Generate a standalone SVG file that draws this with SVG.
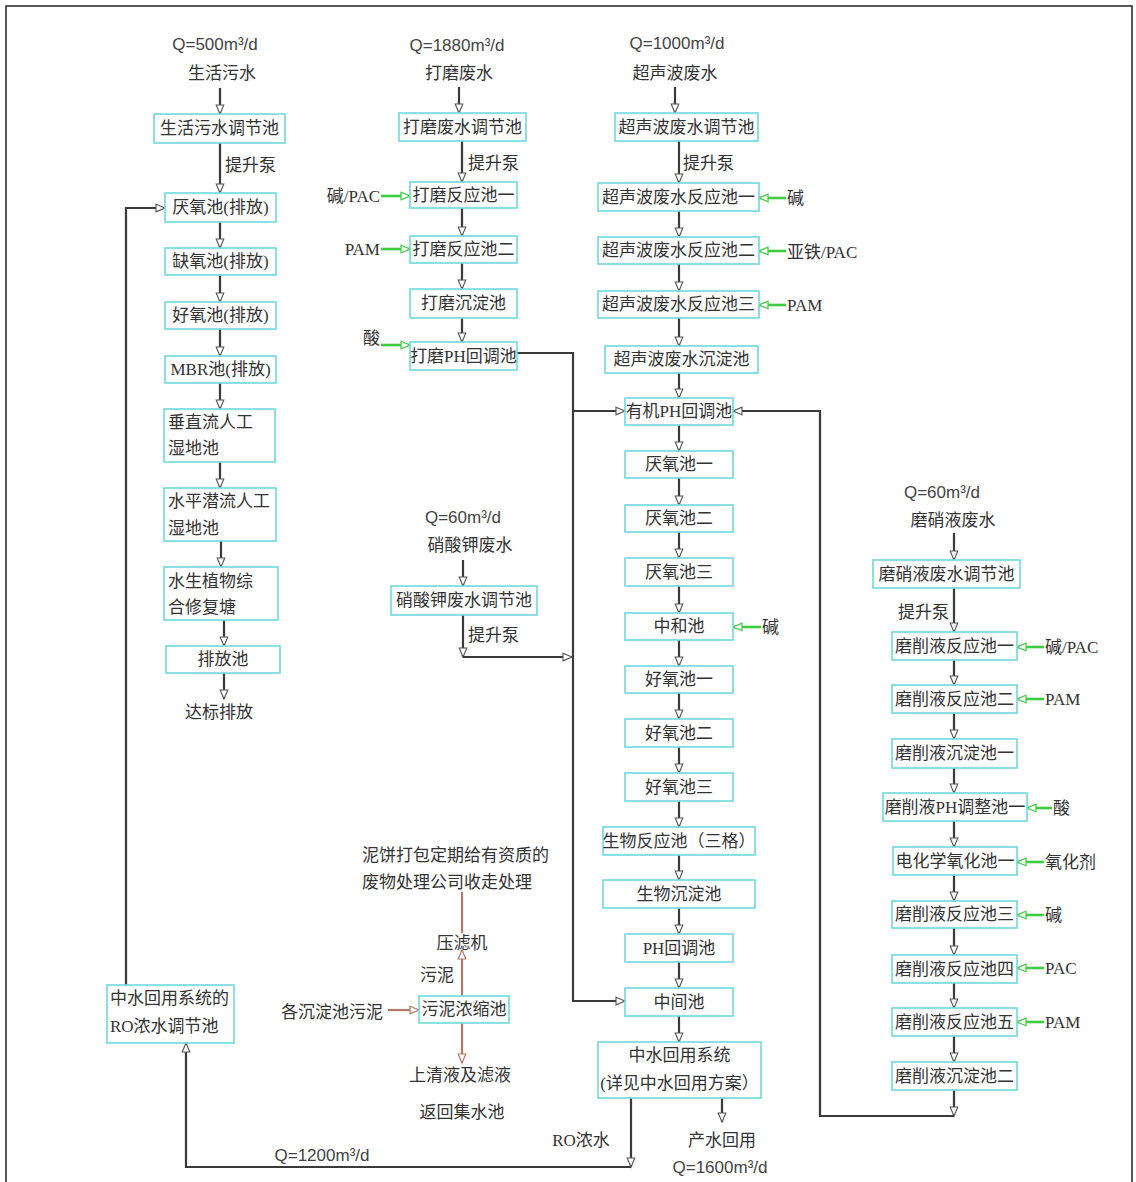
<svg xmlns="http://www.w3.org/2000/svg" width="1136" height="1182" viewBox="0 0 1136 1182">
<style>
.box{fill:#fff;stroke:#6fd9dc;stroke-width:1.6}
text{font-family:"Liberation Serif","Noto Sans CJK SC",serif;font-size:17px;fill:#333;dominant-baseline:central}
.m{text-anchor:middle}
.q{font-family:"Liberation Sans","Noto Sans CJK SC",sans-serif;font-size:17px;fill:#444;text-anchor:middle}
.e{text-anchor:end}
.c{fill:none;stroke:#3a3a3a;stroke-width:2.2}
.g{fill:none;stroke:#3fcc3f;stroke-width:2.6}
.b{fill:none;stroke:#b07a6a;stroke-width:2.2}
</style>
<defs>
<marker id="ak" markerUnits="userSpaceOnUse" markerWidth="12" markerHeight="10" refX="10" refY="5" orient="auto"><path d="M1,1.2 L10,5 L1,8.8 Z" fill="#fff" stroke="#555" stroke-width="1.1"/></marker>
<marker id="ag" markerUnits="userSpaceOnUse" markerWidth="12" markerHeight="10" refX="10" refY="5" orient="auto"><path d="M1,1.2 L10,5 L1,8.8 Z" fill="#fff" stroke="#3fcc3f" stroke-width="1.2"/></marker>
<marker id="ab" markerUnits="userSpaceOnUse" markerWidth="12" markerHeight="10" refX="10" refY="5" orient="auto"><path d="M1,1.2 L10,5 L1,8.8 Z" fill="#fff" stroke="#b07a6a" stroke-width="1.2"/></marker>
</defs>
<rect width="1136" height="1182" fill="#fff"/>
<path d="M6,1182 V6 H1132 V1182" fill="none" stroke="#222" stroke-width="1.5"/>

<g id="labels">
<text class="q" x="215" y="44">Q=500m³/d</text>
<text class="m" x="222" y="73">生活污水</text>
<text x="225" y="165">提升泵</text>
<text class="m" x="219" y="712">达标排放</text>
<text class="q" x="457" y="45">Q=1880m³/d</text>
<text class="m" x="459" y="73">打磨废水</text>
<text x="468" y="163">提升泵</text>
<text class="e" x="380" y="196">碱/PAC</text>
<text class="e" x="380" y="249">PAM</text>
<text class="e" x="380" y="338">酸</text>
<text class="q" x="677" y="43">Q=1000m³/d</text>
<text class="m" x="675" y="73">超声波废水</text>
<text x="683" y="163">提升泵</text>
<text x="787" y="198">碱</text>
<text x="787" y="252">亚铁/PAC</text>
<text x="787" y="305">PAM</text>
<text x="762" y="627">碱</text>
<text class="q" x="463" y="517">Q=60m³/d</text>
<text class="m" x="470" y="545">硝酸钾废水</text>
<text x="468" y="635">提升泵</text>
<text class="q" x="942" y="492">Q=60m³/d</text>
<text class="m" x="953" y="520">磨硝液废水</text>
<text class="e" x="949" y="612">提升泵</text>
<text x="1045" y="647">碱/PAC</text>
<text x="1045" y="699">PAM</text>
<text x="1053" y="808">酸</text>
<text x="1045" y="862">氧化剂</text>
<text x="1045" y="915">碱</text>
<text x="1045" y="968">PAC</text>
<text x="1045" y="1022">PAM</text>
<text x="362" y="855">泥饼打包定期给有资质的</text>
<text x="362" y="882">废物处理公司收走处理</text>
<text class="m" x="462" y="943">压滤机</text>
<text class="m" x="437" y="975">污泥</text>
<text class="m" x="332" y="1012">各沉淀池污泥</text>
<text class="m" x="460" y="1075">上清液及滤液</text>
<text class="m" x="462" y="1112">返回集水池</text>
<text class="m" x="581" y="1140">RO浓水</text>
<text class="q" x="322" y="1155">Q=1200m³/d</text>
<text class="m" x="722" y="1140">产水回用</text>
<text class="q" x="720" y="1167">Q=1600m³/d</text>
</g>

<g id="connectors">
<path class="c" marker-end="url(#ak)" d="M220,88 V114"/>
<path class="c" marker-end="url(#ak)" d="M220,143 V193"/>
<path class="c" marker-end="url(#ak)" d="M220,222 V248"/>
<path class="c" marker-end="url(#ak)" d="M220,275 V302"/>
<path class="c" marker-end="url(#ak)" d="M220,329 V356"/>
<path class="c" marker-end="url(#ak)" d="M220,383 V409"/>
<path class="c" marker-end="url(#ak)" d="M220,462 V488"/>
<path class="c" marker-end="url(#ak)" d="M221,541 V567"/>
<path class="c" marker-end="url(#ak)" d="M224,620 V646"/>
<path class="c" marker-end="url(#ak)" d="M224,673 V699"/>
<path class="c" marker-end="url(#ak)" d="M126,985 V208 H165"/>

<path class="c" marker-end="url(#ak)" d="M459,87 V113"/>
<path class="c" marker-end="url(#ak)" d="M462,141 V182"/>
<path class="c" marker-end="url(#ak)" d="M462,208 V236"/>
<path class="c" marker-end="url(#ak)" d="M462,263 V289"/>
<path class="c" marker-end="url(#ak)" d="M462,318 V342"/>
<path class="g" marker-end="url(#ag)" d="M381,196 H410"/>
<path class="g" marker-end="url(#ag)" d="M381,249 H410"/>
<path class="g" marker-end="url(#ag)" d="M381,345 H410"/>
<path class="c" marker-end="url(#ak)" d="M517,353 H573 V1001 H625"/>
<path class="c" marker-end="url(#ak)" d="M573,411 H625"/>
<path class="c" marker-end="url(#ak)" d="M463,560 V586"/>
<path class="c" marker-end="url(#ak)" d="M463,615 V657"/>
<path class="c" marker-end="url(#ak)" d="M463,657 H572"/>

<path class="c" marker-end="url(#ak)" d="M675,87 V113"/>
<path class="c" marker-end="url(#ak)" d="M679,141 V183"/>
<path class="c" marker-end="url(#ak)" d="M679,211 V237"/>
<path class="c" marker-end="url(#ak)" d="M679,264 V291"/>
<path class="c" marker-end="url(#ak)" d="M679,318 V346"/>
<path class="c" marker-end="url(#ak)" d="M679,373 V398"/>
<path class="c" marker-end="url(#ak)" d="M679,425 V451"/>
<path class="c" marker-end="url(#ak)" d="M679,478 V505"/>
<path class="c" marker-end="url(#ak)" d="M679,532 V558"/>
<path class="c" marker-end="url(#ak)" d="M679,586 V613"/>
<path class="c" marker-end="url(#ak)" d="M679,640 V666"/>
<path class="c" marker-end="url(#ak)" d="M679,693 V719"/>
<path class="c" marker-end="url(#ak)" d="M679,747 V773"/>
<path class="c" marker-end="url(#ak)" d="M679,801 V827"/>
<path class="c" marker-end="url(#ak)" d="M679,855 V880"/>
<path class="c" marker-end="url(#ak)" d="M679,908 V934"/>
<path class="c" marker-end="url(#ak)" d="M679,962 V988"/>
<path class="c" marker-end="url(#ak)" d="M679,1016 V1042"/>
<path class="g" marker-end="url(#ag)" d="M786,198 H759"/>
<path class="g" marker-end="url(#ag)" d="M786,251 H759"/>
<path class="g" marker-end="url(#ag)" d="M786,305 H759"/>
<path class="g" marker-end="url(#ag)" d="M761,627 H733"/>
<path class="c" marker-end="url(#ak)" d="M631,1098 V1167"/>
<path class="c" marker-end="url(#ak)" d="M631,1167 H186 V1043"/>
<path class="c" marker-end="url(#ak)" d="M722,1098 V1122"/>

<path class="c" marker-end="url(#ak)" d="M954,533 V560"/>
<path class="c" marker-end="url(#ak)" d="M954,588 V632"/>
<path class="c" marker-end="url(#ak)" d="M954,660 V685"/>
<path class="c" marker-end="url(#ak)" d="M954,713 V739"/>
<path class="c" marker-end="url(#ak)" d="M954,768 V793"/>
<path class="c" marker-end="url(#ak)" d="M954,821 V847"/>
<path class="c" marker-end="url(#ak)" d="M954,875 V901"/>
<path class="c" marker-end="url(#ak)" d="M954,928 V955"/>
<path class="c" marker-end="url(#ak)" d="M954,983 V1008"/>
<path class="c" marker-end="url(#ak)" d="M954,1036 V1062"/>
<path class="c" marker-end="url(#ak)" d="M954,1090 V1116"/>
<path class="c" marker-end="url(#ak)" d="M954,1116 H820 V411 H733"/>
<path class="g" marker-end="url(#ag)" d="M1044,647 H1017"/>
<path class="g" marker-end="url(#ag)" d="M1044,699 H1017"/>
<path class="g" marker-end="url(#ag)" d="M1052,808 H1027"/>
<path class="g" marker-end="url(#ag)" d="M1044,862 H1017"/>
<path class="g" marker-end="url(#ag)" d="M1044,915 H1017"/>
<path class="g" marker-end="url(#ag)" d="M1044,968 H1017"/>
<path class="g" marker-end="url(#ag)" d="M1044,1022 H1017"/>

<path class="b" d="M462,892 V933"/>
<path class="b" marker-end="url(#ab)" d="M462,996 V950"/>
<path class="b" marker-end="url(#ab)" d="M388,1010 H419"/>
<path class="b" marker-end="url(#ab)" d="M462,1023 V1063"/>
</g>

<g id="n1"><rect class="box" x="154" y="114" width="131" height="29"/><text class="m" x="219.5" y="128.5">生活污水调节池</text></g>
<g id="n2"><rect class="box" x="165" y="193" width="111" height="29"/><text class="m" x="220.5" y="207.5">厌氧池(排放)</text></g>
<g id="n3"><rect class="box" x="165" y="248" width="111" height="27"/><text class="m" x="220.5" y="261.5">缺氧池(排放)</text></g>
<g id="n4"><rect class="box" x="165" y="302" width="111" height="27"/><text class="m" x="220.5" y="315.5">好氧池(排放)</text></g>
<g id="n5"><rect class="box" x="165" y="356" width="111" height="27"/><text class="m" x="220.5" y="369.5">MBR池(排放)</text></g>
<g id="n6"><rect class="box" x="164" y="409" width="111" height="53"/><text x="168" y="422">垂直流人工</text><text x="168" y="448">湿地池</text></g>
<g id="n7"><rect class="box" x="164" y="488" width="112" height="53"/><text x="168" y="501">水平潜流人工</text><text x="168" y="528">湿地池</text></g>
<g id="n8"><rect class="box" x="164" y="567" width="114" height="53"/><text x="168" y="581">水生植物综</text><text x="168" y="607">合修复塘</text></g>
<g id="n9"><rect class="box" x="166" y="646" width="114" height="27"/><text class="m" x="223" y="659.5">排放池</text></g>

<g id="m1"><rect class="box" x="399" y="113" width="127" height="28"/><text class="m" x="462.5" y="127">打磨废水调节池</text></g>
<g id="m2"><rect class="box" x="410" y="182" width="107" height="26"/><text class="m" x="463.5" y="195">打磨反应池一</text></g>
<g id="m3"><rect class="box" x="410" y="236" width="107" height="27"/><text class="m" x="463.5" y="249.5">打磨反应池二</text></g>
<g id="m4"><rect class="box" x="410" y="289" width="107" height="29"/><text class="m" x="463.5" y="303.5">打磨沉淀池</text></g>
<g id="m5"><rect class="box" x="410" y="342" width="107" height="28"/><text class="m" x="463.5" y="356">打磨PH回调池</text></g>

<g id="u1"><rect class="box" x="615" y="113" width="143" height="28"/><text class="m" x="686.5" y="127">超声波废水调节池</text></g>
<g id="u2"><rect class="box" x="598" y="183" width="161" height="28"/><text class="m" x="678.5" y="197">超声波废水反应池一</text></g>
<g id="u3"><rect class="box" x="598" y="237" width="161" height="27"/><text class="m" x="678.5" y="250.5">超声波废水反应池二</text></g>
<g id="u4"><rect class="box" x="598" y="291" width="161" height="27"/><text class="m" x="678.5" y="304.5">超声波废水反应池三</text></g>
<g id="u5"><rect class="box" x="605" y="346" width="153" height="27"/><text class="m" x="681.5" y="359.5">超声波废水沉淀池</text></g>

<g id="c1"><rect class="box" x="625" y="398" width="108" height="27"/><text class="m" x="679" y="411.5">有机PH回调池</text></g>
<g id="c2"><rect class="box" x="625" y="451" width="108" height="27"/><text class="m" x="679" y="464.5">厌氧池一</text></g>
<g id="c3"><rect class="box" x="625" y="505" width="108" height="27"/><text class="m" x="679" y="518.5">厌氧池二</text></g>
<g id="c4"><rect class="box" x="625" y="558" width="108" height="28"/><text class="m" x="679" y="572">厌氧池三</text></g>
<g id="c5"><rect class="box" x="625" y="613" width="108" height="27"/><text class="m" x="679" y="626.5">中和池</text></g>
<g id="c6"><rect class="box" x="625" y="666" width="108" height="27"/><text class="m" x="679" y="679.5">好氧池一</text></g>
<g id="c7"><rect class="box" x="625" y="719" width="108" height="28"/><text class="m" x="679" y="733">好氧池二</text></g>
<g id="c8"><rect class="box" x="625" y="773" width="108" height="28"/><text class="m" x="679" y="787">好氧池三</text></g>
<g id="c9"><rect class="box" x="603" y="827" width="152" height="28"/><text class="m" x="679" y="841">生物反应池（三格）</text></g>
<g id="c10"><rect class="box" x="603" y="880" width="152" height="28"/><text class="m" x="679" y="894">生物沉淀池</text></g>
<g id="c11"><rect class="box" x="625" y="934" width="108" height="28"/><text class="m" x="679" y="948">PH回调池</text></g>
<g id="c12"><rect class="box" x="625" y="988" width="108" height="28"/><text class="m" x="679" y="1002">中间池</text></g>
<g id="c13"><rect class="box" x="598" y="1042" width="163" height="56"/><text class="m" x="679.5" y="1055">中水回用系统</text><text class="m" x="679.5" y="1083">(详见中水回用方案）</text></g>

<g id="k1"><rect class="box" x="391" y="586" width="146" height="29"/><text class="m" x="464" y="600.5">硝酸钾废水调节池</text></g>

<g id="r1"><rect class="box" x="873" y="560" width="147" height="28"/><text class="m" x="946.5" y="574">磨硝液废水调节池</text></g>
<g id="r2"><rect class="box" x="892" y="632" width="125" height="28"/><text class="m" x="954.5" y="646">磨削液反应池一</text></g>
<g id="r3"><rect class="box" x="892" y="685" width="125" height="28"/><text class="m" x="954.5" y="699">磨削液反应池二</text></g>
<g id="r4"><rect class="box" x="892" y="739" width="125" height="29"/><text class="m" x="954.5" y="753.5">磨削液沉淀池一</text></g>
<g id="r5"><rect class="box" x="883" y="793" width="144" height="28"/><text class="m" x="955" y="807">磨削液PH调整池一</text></g>
<g id="r6"><rect class="box" x="893" y="847" width="124" height="28"/><text class="m" x="955" y="861">电化学氧化池一</text></g>
<g id="r7"><rect class="box" x="892" y="901" width="125" height="27"/><text class="m" x="954.5" y="914.5">磨削液反应池三</text></g>
<g id="r8"><rect class="box" x="892" y="955" width="125" height="28"/><text class="m" x="954.5" y="969">磨削液反应池四</text></g>
<g id="r9"><rect class="box" x="892" y="1008" width="125" height="28"/><text class="m" x="954.5" y="1022">磨削液反应池五</text></g>
<g id="r10"><rect class="box" x="892" y="1062" width="125" height="28"/><text class="m" x="954.5" y="1076">磨削液沉淀池二</text></g>

<g id="s1"><rect class="box" x="419" y="996" width="90" height="27"/><text class="m" x="464" y="1009.5">污泥浓缩池</text></g>
<g id="ro"><rect class="box" x="107" y="985" width="127" height="58"/><text x="110" y="998">中水回用系统的</text><text x="110" y="1026">RO浓水调节池</text></g>
</svg>
